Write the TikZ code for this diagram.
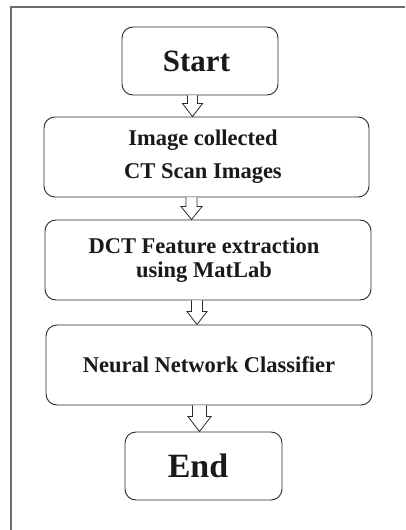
\documentclass[tikz,border=0pt]{standalone}
\usepackage{fontspec}
\setmainfont{Liberation Serif}
\usetikzlibrary{calc}
\definecolor{framegray}{HTML}{6E6E6E}
\definecolor{boxline}{HTML}{2A2A2A}
\tikzset{
  flowbox/.style={draw=boxline, line width=0.9pt, rounded corners=11pt, fill=white,
    align=center, inner sep=0pt, font=\bfseries\fontsize{22.5}{24}\selectfont, text=black!90},
  termbox/.style={flowbox},
  blockarrowstyle/.style={draw=boxline, line width=0.8pt, fill=white, line join=miter},
  framestyle/.style={draw=framegray, line width=1.6pt}
}
% #1 from node, #2 to node, #3 centre x, #4 shaft half width, #5 head half width, #6 head length
\newcommand{\blkarrow}[6]{%
  \draw[blockarrowstyle] let \p1=(#1.south), \p2=(#2.north) in
    (#3-#4, \y1) -- (#3-#4, \y2+#6) -- (#3-#5, \y2+#6) -- (#3, \y2)
    -- (#3+#5, \y2+#6) -- (#3+#4, \y2+#6) -- (#3+#4, \y1);
}
\begin{document}
\begin{tikzpicture}[x=1pt,y=1pt]
\useasboundingbox (0,0) rectangle (405,-530);
\fill[white] (0,0) rectangle (405,-530);
\draw[framestyle] (405,-7) -- (11,-7) -- (11,-530);

\node[termbox, minimum width=156pt, minimum height=68pt,
      font=\bfseries\fontsize{31}{32}\selectfont] (start) at (200,-61) {Start\kern7pt};
\node[flowbox, minimum width=325pt, minimum height=80pt] (collect) at (206.5,-157)
  {Image collected\kern7pt\\[9pt]CT Scan Images\kern7pt};
\node[flowbox, minimum width=326pt, minimum height=80pt] (dct) at (208,-260)
  {DCT Feature extraction\kern8pt\\using MatLab\kern8pt};
\node[flowbox, minimum width=326pt, minimum height=80pt] (nn) at (209,-365)
  {Neural Network Classifier};
\node[termbox, minimum width=157pt, minimum height=68pt,
      font=\bfseries\fontsize{34}{36}\selectfont] (end) at (203.5,-466) {End\kern11pt};

\blkarrow{start}{collect}{192.5}{5}{10}{13}
\blkarrow{collect}{dct}{191.5}{5.5}{10.5}{13}
\blkarrow{dct}{nn}{197}{5.5}{10}{13}
\blkarrow{nn}{end}{199.5}{7}{11.5}{15}
\end{tikzpicture}
\end{document}
